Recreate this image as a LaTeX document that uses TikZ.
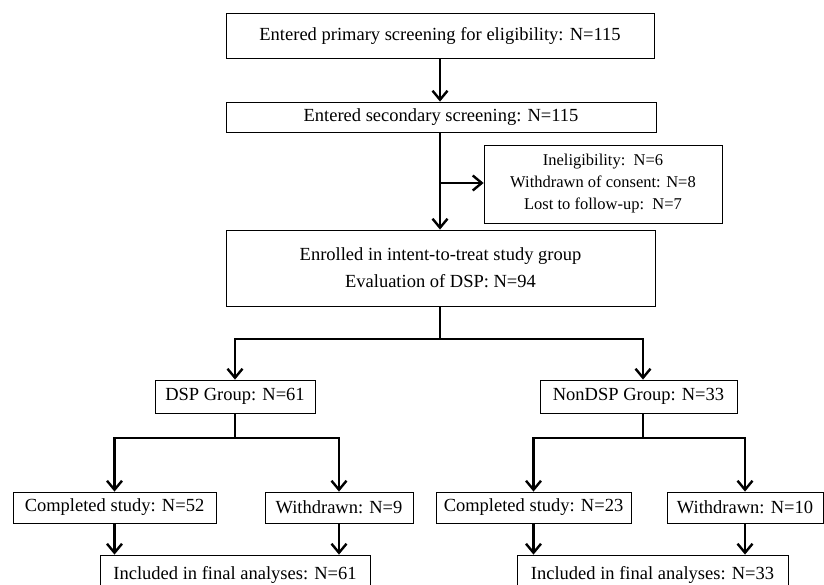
\documentclass[tikz,border=0pt]{standalone}
\usepackage{fontspec}
\setmainfont{Liberation Serif}
\usetikzlibrary{arrows.meta,positioning,calc}

\begin{document}
\begin{tikzpicture}[x = 1pt, y = -1pt,
  box/.style = {draw, line width = 0.8pt, inner sep = 0pt, align = center, font = \fontsize{18.5}{22}\selectfont},
  arr/.style = {line width = 2.4pt, -{Straight Barb[length = 9pt, width = 15pt, line width = 2.4pt]}},
  link/.style = {line width = 2.4pt}]
\useasboundingbox (0,0) rectangle (824,584);
% screening
\node[box, minimum width = 428, minimum height = 45] (prim) at (440,35.5) {Entered primary screening for eligibility: N=115};
\node[box, minimum width = 430, minimum height = 30] (sec) at (441,117) {Entered secondary screening: N=115};
\node[box, minimum width = 238, minimum height = 78, font = \fontsize{16.5}{22}\selectfont] (excl) at (603,184) {Ineligibility:\ \ N=6\\Withdrawn of consent: N=8\\Lost to follow-up:\ \ N=7};
\node[box, minimum width = 429, minimum height = 76, font = \fontsize{18.5}{27}\selectfont] (itt) at (440.5,268) {Enrolled in intent-to-treat study group\\Evaluation of DSP: N=94};
% groups
\node[box, minimum width = 160, minimum height = 33] (dsp) at (235,396.5) {DSP Group: N=61};
\node[box, minimum width = 197, minimum height = 33] (non) at (638.5,396.5) {NonDSP Group: N=33};
% outcomes
\node[box, minimum width = 203, minimum height = 31] (comp1) at (114.5,507.5) {Completed study: N=52};
\node[box, minimum width = 148, minimum height = 31] (wd1) at (339,507.5) {Withdrawn: N=9};
\node[box, minimum width = 195, minimum height = 31] (comp2) at (533.5,507.5) {Completed study: N=23};
\node[box, minimum width = 156, minimum height = 31] (wd2) at (745,507.5) {Withdrawn: N=10};
\node[box, minimum width = 270, minimum height = 40] (fin1) at (235,575) {Included in final analyses: N=61};
\node[box, minimum width = 271, minimum height = 40] (fin2) at (652.5,575) {Included in final analyses: N=33};
% connectors
\coordinate (side) at (440,183);
\coordinate (split) at (440,339);
\coordinate (split1) at (235,438);
\coordinate (split2) at (643,438);
\draw[arr] (prim.south) -- (prim.south |- sec.north);
\draw[arr] (sec.south -| side) -- (side |- itt.north);
\draw[arr] (side) -- (excl.west |- side);
\draw[link] (split |- itt.south) -- (split);
\draw[arr] (split) -| (dsp.north);
\draw[arr] (split) -| (split2 |- non.north);
\draw[link] (dsp.south) -- (split1);
\draw[arr] (split1) -| (comp1.north);
\draw[arr] (split1) -| (wd1.north);
\draw[link] (split2 |- non.south) -- (split2);
\draw[arr] (split2) -| (comp2.north);
\draw[arr] (split2) -| (wd2.north);
\draw[arr] (comp1.south) -- (comp1.south |- fin1.north);
\draw[arr] (wd1.south) -- (wd1.south |- fin1.north);
\draw[arr] (comp2.south) -- (comp2.south |- fin2.north);
\draw[arr] (wd2.south) -- (wd2.south |- fin2.north);
\end{tikzpicture}
\end{document}
